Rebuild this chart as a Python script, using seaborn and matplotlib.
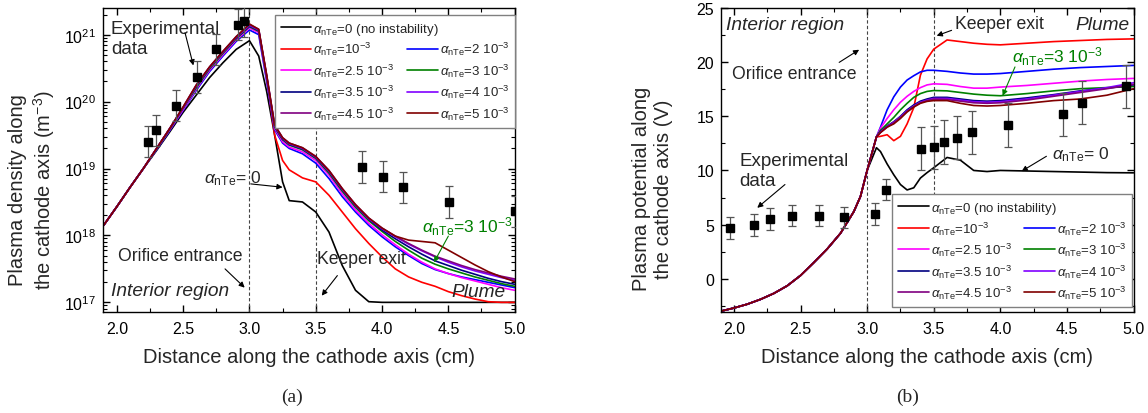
import numpy as np
import pandas as pd
import matplotlib
matplotlib.use("Agg")
import matplotlib.pyplot as plt
from matplotlib.lines import Line2D
from matplotlib.ticker import MultipleLocator
import seaborn as sns

# alpha_nTe cases: legend text and line colours
cases = ['0', '1e-3', '2e-3', '2.5e-3', '3e-3', '3.5e-3', '4e-3', '4.5e-3', '5e-3']
A = r'$\alpha_{\mathrm{nTe}}$'
labels = [A + '=0 (no instability)', A + '=10$^{-3}$', A + '=2 10$^{-3}$',
          A + '=2.5 10$^{-3}$', A + '=3 10$^{-3}$', A + '=3.5 10$^{-3}$',
          A + '=4 10$^{-3}$', A + '=4.5 10$^{-3}$', A + '=5 10$^{-3}$']
colors = ['#000000', '#ff0000', '#0000ff', '#ff00ff', '#008000',
          '#000080', '#8000ff', '#800080', '#800000']

# ---- (a) plasma density, log10(n / m^-3) ----
x_ne = [1.9, 2.0, 2.1, 2.2, 2.3, 2.4, 2.5, 2.6, 2.7, 2.8, 2.9, 3.0, 3.07, 3.13, 3.19,
        3.25, 3.3, 3.4, 3.5, 3.6, 3.7, 3.8, 3.9, 4.0, 4.1, 4.2, 4.3, 4.4, 4.5, 4.6,
        4.7, 4.8, 4.9, 5.0]
log_ne = {
    '0':      [18.15, 18.43, 18.72, 19.0, 19.27, 19.55, 19.84, 20.1, 20.36, 20.58, 20.78, 20.91, 20.68, 20.15, 19.5,
               18.8, 18.52, 18.5, 18.35, 18.05, 17.55, 17.18, 17.01, 17.0, 17.0, 17.0, 17.0, 17.0, 17.0, 17.0,
               17.0, 17.0, 17.0, 17.0],
    '1e-3':   [18.15, 18.43, 18.72, 19.0, 19.3, 19.6, 19.9, 20.22, 20.5, 20.73, 20.95, 21.12, 21.05, 20.35, 19.5,
               19.12, 18.98, 18.86, 18.8, 18.6, 18.35, 18.1, 17.88, 17.68, 17.5, 17.38, 17.3, 17.24, 17.16, 17.1,
               17.05, 17.01, 17.0, 17.0],
    '2e-3':   [18.15, 18.43, 18.72, 19.0, 19.28, 19.57, 19.87, 20.17, 20.45, 20.68, 20.9, 21.07, 21.0, 20.3, 19.58,
               19.38, 19.3, 19.22, 19.08, 18.85, 18.58, 18.35, 18.15, 17.98, 17.83, 17.7, 17.58, 17.49, 17.43, 17.38,
               17.34, 17.3, 17.26, 17.22],
    '2.5e-3': [18.15, 18.43, 18.72, 19.0, 19.29, 19.58, 19.88, 20.19, 20.47, 20.7, 20.92, 21.1, 21.03, 20.33, 19.6,
               19.4, 19.32, 19.25, 19.12, 18.9, 18.62, 18.38, 18.18, 18.01, 17.86, 17.72, 17.6, 17.5, 17.43, 17.37,
               17.32, 17.27, 17.22, 17.18],
    '3e-3':   [18.15, 18.43, 18.72, 19.0, 19.29, 19.59, 19.9, 20.21, 20.49, 20.72, 20.94, 21.12, 21.05, 20.36, 19.62,
               19.43, 19.35, 19.28, 19.15, 18.93, 18.66, 18.42, 18.22, 18.06, 17.91, 17.78, 17.66, 17.57, 17.5, 17.44,
               17.38, 17.33, 17.28, 17.24],
    '3.5e-3': [18.15, 18.43, 18.72, 19.0, 19.3, 19.6, 19.91, 20.23, 20.51, 20.74, 20.95, 21.13, 21.06, 20.37, 19.63,
               19.44, 19.36, 19.29, 19.16, 18.95, 18.68, 18.44, 18.24, 18.08, 17.95, 17.83, 17.72, 17.62, 17.55, 17.48,
               17.42, 17.36, 17.31, 17.27],
    '4e-3':   [18.15, 18.43, 18.72, 19.0, 19.3, 19.6, 19.91, 20.24, 20.51, 20.74, 20.96, 21.14, 21.07, 20.38, 19.64,
               19.45, 19.37, 19.3, 19.17, 18.96, 18.69, 18.45, 18.25, 18.1, 17.98, 17.87, 17.77, 17.68, 17.6, 17.53,
               17.47, 17.42, 17.37, 17.33],
    '4.5e-3': [18.15, 18.43, 18.72, 19.0, 19.3, 19.6, 19.92, 20.25, 20.52, 20.75, 20.97, 21.15, 21.08, 20.39, 19.65,
               19.46, 19.38, 19.31, 19.18, 18.97, 18.7, 18.46, 18.26, 18.11, 17.99, 17.88, 17.78, 17.69, 17.62, 17.55,
               17.49, 17.44, 17.39, 17.35],
    '5e-3':   [18.15, 18.43, 18.72, 19.0, 19.3, 19.6, 19.92, 20.25, 20.52, 20.75, 20.97, 21.16, 21.08, 20.4, 19.65,
               19.46, 19.38, 19.31, 19.18, 18.97, 18.7, 18.46, 18.26, 18.11, 17.99, 17.93, 17.91, 17.89, 17.78, 17.67,
               17.56, 17.46, 17.38, 17.31],
}
x_ne_exp = [2.237, 2.294, 2.444, 2.606, 2.746, 2.91, 2.959, 3.85, 4.004, 4.155, 4.505, 5.0]
log_ne_exp = [19.40, 19.57, 19.94, 20.37, 20.78, 21.15, 21.20, 19.02, 18.88, 18.72, 18.50, 18.36]
log_ne_err = [0.235, 0.235, 0.235, 0.235, 0.235, 0.235, 0.235, 0.235, 0.235, 0.235, 0.235, 0.235]

# ---- (b) plasma potential (V) ----
x_phi_rise = [1.9, 2.0, 2.1, 2.2, 2.3, 2.4, 2.5, 2.6, 2.7, 2.8, 2.9, 2.95]
phi_rise = [-3.0, -2.7, -2.35, -1.9, -1.35, -0.65, 0.3, 1.5, 2.75, 4.2, 6.2, 7.6]
x_phi = [3.0, 3.07, 3.1, 3.15, 3.2, 3.25, 3.3, 3.35, 3.4, 3.45, 3.5, 3.6, 3.7, 3.8, 3.9,
         4.0, 4.2, 4.4, 4.6, 4.8, 5.0]
phi = {
    '0':      [10.0, 12.1, 11.75, 10.6, 9.6, 8.7, 8.2, 8.4, 9.3, 9.8, 10.25, 11.2, 10.95, 10.0, 9.9,
               10.0, 9.95, 9.9, 9.85, 9.8, 9.78],
    '1e-3':   [10.0, 13.1, 13.15, 13.3, 12.75, 13.15, 14.3, 15.8, 18.8, 20.3, 21.2, 22.05, 21.9, 21.75, 21.65,
               21.6, 21.75, 21.9, 22.0, 22.1, 22.15],
    '2e-3':   [10.0, 13.1, 14.0, 15.6, 16.8, 17.7, 18.35, 18.75, 19.1, 19.25, 19.25, 19.15, 19.0, 18.9, 18.9,
               18.95, 19.15, 19.35, 19.5, 19.6, 19.7],
    '2.5e-3': [10.0, 13.1, 13.9, 14.8, 15.6, 16.3, 16.85, 17.3, 17.65, 17.9, 18.0, 17.95, 17.75, 17.6, 17.6,
               17.7, 17.85, 18.05, 18.25, 18.4, 18.5],
    '3e-3':   [10.0, 13.1, 13.7, 14.3, 14.9, 15.6, 16.2, 16.75, 17.1, 17.3, 17.38, 17.35, 17.2, 17.05, 16.95,
               16.9, 17.1, 17.35, 17.55, 17.65, 17.75],
    '3.5e-3': [10.0, 13.1, 13.6, 14.1, 14.5, 15.0, 15.6, 16.05, 16.4, 16.6, 16.75, 16.75, 16.6, 16.45, 16.4,
               16.45, 16.7, 17.0, 17.35, 17.6, 17.9],
    '4e-3':   [10.0, 13.1, 13.55, 14.05, 14.45, 14.95, 15.5, 15.95, 16.3, 16.5, 16.65, 16.65, 16.5, 16.35, 16.3,
               16.35, 16.6, 16.95, 17.3, 17.65, 18.1],
    '4.5e-3': [10.0, 13.1, 13.5, 14.0, 14.4, 14.9, 15.45, 15.9, 16.25, 16.45, 16.58, 16.55, 16.4, 16.25, 16.2,
               16.25, 16.5, 16.85, 17.2, 17.55, 17.95],
    '5e-3':   [10.0, 13.1, 13.5, 14.0, 14.3, 14.8, 15.4, 15.85, 16.2, 16.38, 16.45, 16.45, 16.2, 16.0, 15.95,
               16.0, 16.2, 16.45, 16.6, 16.95, 17.55],
}
x_phi_exp = [1.97, 2.152, 2.27, 2.438, 2.636, 2.83, 3.06, 3.145, 3.403, 3.50, 3.58, 3.675,
             3.787, 4.06, 4.472, 4.61, 4.945]
phi_exp = [4.67, 4.98, 5.5, 5.84, 5.84, 5.66, 6.0, 8.24, 12.02, 12.15, 12.64, 13.04,
           13.53, 14.2, 15.19, 16.27, 17.77]
phi_err = [1.0, 1.0, 1.0, 1.0, 1.0, 1.0, 1.0, 1.0, 2.0, 2.0, 2.0, 2.0, 2.0, 2.0, 2.0, 2.0, 2.0]

# long tables for seaborn
ne_df = pd.concat([pd.DataFrame({'x': x_ne, 'n': 10 ** np.array(log_ne[c]), 'case': c})
                   for c in cases])
phi_df = pd.concat([pd.DataFrame({'x': x_phi_rise + x_phi, 'phi': phi_rise + phi[c], 'case': c})
                    for c in cases])
palette = dict(zip(cases, colors))

sns.set_style("ticks")
plt.rcParams['font.family'] = ['Liberation Sans', 'DejaVu Sans']
plt.rcParams['mathtext.fontset'] = 'custom'
plt.rcParams['mathtext.rm'] = 'Liberation Sans'
plt.rcParams['mathtext.it'] = 'Liberation Sans:italic'
plt.rcParams['axes.linewidth'] = 1.0

fig = plt.figure(figsize=(11.48, 4.14), dpi=100)
ax1 = fig.add_axes([0.0893, 0.2432, 0.3590, 0.7350])
ax2 = fig.add_axes([0.6283, 0.2432, 0.3591, 0.7350])

sns.lineplot(data=ne_df, x='x', y='n', hue='case', hue_order=cases, palette=palette,
             estimator=None, sort=False, linewidth=1.2, legend=False, ax=ax1)
sns.lineplot(data=phi_df, x='x', y='phi', hue='case', hue_order=cases, palette=palette,
             estimator=None, sort=False, linewidth=1.2, legend=False, ax=ax2)

ne_exp = 10 ** np.array(log_ne_exp)
ne_lo = ne_exp - 10 ** (np.array(log_ne_exp) - np.array(log_ne_err))
ne_hi = 10 ** (np.array(log_ne_exp) + np.array(log_ne_err)) - ne_exp
ax1.errorbar(x_ne_exp, ne_exp, yerr=[ne_lo, ne_hi], fmt='s', color='k', ms=5.5,
             ecolor='#555555', elinewidth=0.9, capsize=3, capthick=0.9, zorder=5)
ax2.errorbar(x_phi_exp, phi_exp, yerr=phi_err, fmt='s', color='k', ms=5.5,
             ecolor='#555555', elinewidth=0.9, capsize=3, capthick=0.9, zorder=5)

ax1.set_yscale('log')
ax1.set_xlim(1.892, 5.0)
ax1.set_ylim(7.1e16, 2.5e21)
ax2.set_xlim(1.905, 5.0)
ax2.set_ylim(-3.1, 25)
ax2.yaxis.set_major_locator(MultipleLocator(5))
ax2.yaxis.set_minor_locator(MultipleLocator(2.5))

for ax in (ax1, ax2):
    ax.xaxis.set_major_locator(MultipleLocator(0.5))
    ax.xaxis.set_minor_locator(MultipleLocator(0.25))
    ax.tick_params(which='both', direction='in', top=True, right=True, colors='k',
                   labelsize=11.5)
    ax.tick_params(which='major', length=5, width=1)
    ax.tick_params(which='minor', length=3, width=0.8)
    ax.tick_params(axis='x', pad=6)
    ax.tick_params(axis='y', pad=5)
    for s in ax.spines.values():
        s.set_color('k')
    ax.axvline(3.0, color='#444444', lw=0.8, ls=(0, (3, 2)), zorder=1)
    ax.axvline(3.5, color='#444444', lw=0.8, ls=(0, (3, 2)), zorder=1)
    ax.set_xlabel('Distance along the cathode axis (cm)', fontsize=14.5)
    ax.xaxis.set_label_coords(0.5, -0.144)
    ax.xaxis.label.set_va('center')

ax1.set_ylabel('Plasma density along\nthe cathode axis (m$^{-3}$)', fontsize=14.5)
ax2.set_ylabel('Plasma potential along\nthe cathode axis (V)', fontsize=14.5)
ax1.yaxis.set_label_coords(-0.169, 0.405)
ax2.yaxis.set_label_coords(-0.168, 0.408)
for ax in (ax1, ax2):
    ax.yaxis.label.set_va('center')
    ax.yaxis.label.set_ha('center')


def add_legend(ax, anchor):
    lines = [Line2D([], [], color=c, lw=1.2) for c in colors]
    blank = Line2D([], [], color='none')
    handles = [blank, lines[1], lines[3], lines[5], lines[7],
               blank, lines[2], lines[4], lines[6], lines[8]]
    texts = [A + '=0', labels[1], labels[3], labels[5], labels[7],
             A + '=0', labels[2], labels[4], labels[6], labels[8]]
    kw = dict(loc='upper left', bbox_to_anchor=anchor, fontsize=9.5, handlelength=2.3,
              handletextpad=0.15, labelspacing=0.32, borderpad=0.45, borderaxespad=0)
    leg = ax.legend(handles, texts, ncol=2, columnspacing=1.0, frameon=True,
                    fancybox=False, edgecolor='#808080', framealpha=1, **kw)
    leg.get_frame().set_linewidth(1.0)
    leg.get_texts()[0].set_alpha(0)
    leg.get_texts()[5].set_alpha(0)
    ax.add_artist(leg)
    ax.legend([lines[0]], [labels[0]], frameon=False, **kw)


add_legend(ax1, (0.4186, 0.978))
add_legend(ax2, (0.4147, 0.389))

arrow = dict(arrowstyle='-|>', color='k', lw=0.8, mutation_scale=8, shrinkA=0, shrinkB=0)
garrow = dict(arrow, color='#008000')

# annotations, panel (a)
ax1.text(1.955, 10 ** 21.22, 'Experimental\ndata', fontsize=13.5, ha='left', va='top')
ax1.annotate('', xy=(2.577, 10 ** 20.54), xytext=(2.514, 10 ** 21.03), arrowprops=arrow)
ax1.text(2.655, 10 ** 18.86, A + '= 0', fontsize=12.5, ha='left', va='center')
ax1.annotate('', xy=(3.25, 10 ** 18.72), xytext=(3.01, 10 ** 18.77), arrowprops=arrow)
ax1.text(2.008, 10 ** 17.70, 'Orifice entrance', fontsize=12.7, ha='left', va='center')
ax1.annotate('', xy=(2.964, 10 ** 17.22), xytext=(2.816, 10 ** 17.50), arrowprops=arrow)
ax1.text(1.954, 10 ** 17.18, 'Interior region', fontsize=13.8, style='italic', ha='left', va='center')
ax1.text(3.51, 10 ** 17.655, 'Keeper exit', fontsize=12.7, ha='left', va='center')
ax1.annotate('', xy=(3.545, 10 ** 17.10), xytext=(3.663, 10 ** 17.40), arrowprops=arrow)
ax1.text(4.935, 10 ** 17.16, 'Plume', fontsize=13.8, style='italic', ha='right', va='center')
ax1.text(4.30, 10 ** 18.15, A + '=3 10$^{-3}$', fontsize=12.5, color='#008000', ha='left', va='center')
ax1.annotate('', xy=(4.392, 10 ** 17.60), xytext=(4.50, 10 ** 17.99), arrowprops=garrow)

# annotations, panel (b)
ax2.text(1.94, 23.46, 'Interior region', fontsize=13.8, style='italic', ha='left', va='center')
ax2.text(1.983, 18.92, 'Orifice entrance', fontsize=12.7, ha='left', va='center')
ax2.annotate('', xy=(2.94, 21.15), xytext=(2.79, 19.98), arrowprops=arrow)
ax2.text(3.66, 23.53, 'Keeper exit', fontsize=12.7, ha='left', va='center')
ax2.annotate('', xy=(3.522, 22.44), xytext=(3.634, 22.94), arrowprops=arrow)
ax2.text(4.97, 23.5, 'Plume', fontsize=13.8, style='italic', ha='right', va='center')
ax2.text(4.086, 20.6, A + '=3 10$^{-3}$', fontsize=12.5, color='#008000', ha='left', va='center')
ax2.annotate('', xy=(4.017, 16.9), xytext=(4.11, 19.56), arrowprops=garrow)
ax2.text(4.39, 11.56, A + '= 0', fontsize=12.5, ha='left', va='center')
ax2.annotate('', xy=(4.16, 9.93), xytext=(4.346, 11.31), arrowprops=arrow)
ax2.text(2.04, 11.68, 'Experimental\ndata', fontsize=13.5, ha='left', va='top')
ax2.annotate('', xy=(2.175, 6.55), xytext=(2.383, 8.7), arrowprops=arrow)

fig.text(292 / 1148, 1 - 397 / 414, '(a)', fontsize=14, family='Liberation Serif', ha='center', va='center')
fig.text(908 / 1148, 1 - 397 / 414, '(b)', fontsize=14, family='Liberation Serif', ha='center', va='center')

fig.savefig('out.png', dpi=100)
